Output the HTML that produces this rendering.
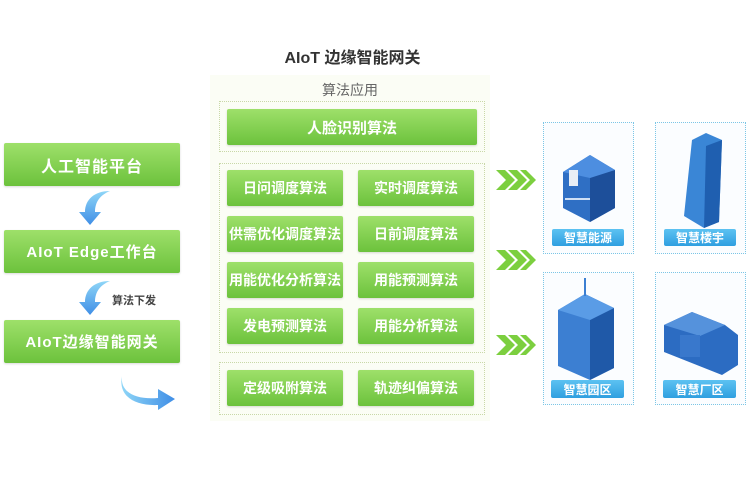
<!DOCTYPE html>
<html><head><meta charset="utf-8"><style>
*{margin:0;padding:0;box-sizing:border-box}
body{width:750px;height:500px;background:#fff;position:relative;overflow:hidden;font-family:"Liberation Sans","Noto Sans CJK SC",sans-serif}
.a{position:absolute}
.g{position:absolute;background:linear-gradient(#9ee06a,#6cc23c);color:#fff;font-weight:bold;display:flex;align-items:center;justify-content:center;border-radius:2px;box-shadow:0 1px 2px rgba(0,0,0,.15);white-space:nowrap}
.b{font-size:14px}
.d{position:absolute;border:1px dotted #c9d8a8}
.c{position:absolute;border:1px dotted #7cc6e6;background:#fbfdff}
.p{position:absolute;background:linear-gradient(#5cc2f2,#2f9fe0);color:#fff;font-weight:bold;font-size:12px;display:flex;align-items:center;justify-content:center;border-radius:2px}
</style></head><body>
<div class="a" style="left:0;top:44px;width:705px;text-align:center;font-size:16px;font-weight:bold;color:#333">AIoT 边缘智能网关</div>
<div class="a" style="left:210px;top:75px;width:280px;height:346px;background:#fbfdf5"></div>
<div class="a" style="left:210px;top:80px;width:280px;text-align:center;font-size:14px;color:#666">算法应用</div>
<div class="d" style="left:219px;top:101px;width:266px;height:51px"></div>
<div class="g" style="left:227px;top:109px;width:250px;height:36px;font-size:15px">人脸识别算法</div>
<div class="d" style="left:219px;top:163px;width:266px;height:190px"></div>
<div class="g b" style="left:227px;top:170px;width:116px;height:36px">日问调度算法</div>
<div class="g b" style="left:358px;top:170px;width:116px;height:36px">实时调度算法</div>
<div class="g b" style="left:227px;top:216px;width:116px;height:36px">供需优化调度算法</div>
<div class="g b" style="left:358px;top:216px;width:116px;height:36px">日前调度算法</div>
<div class="g b" style="left:227px;top:262px;width:116px;height:36px">用能优化分析算法</div>
<div class="g b" style="left:358px;top:262px;width:116px;height:36px">用能预测算法</div>
<div class="g b" style="left:227px;top:308px;width:116px;height:36px">发电预测算法</div>
<div class="g b" style="left:358px;top:308px;width:116px;height:36px">用能分析算法</div>
<div class="d" style="left:219px;top:362px;width:266px;height:53px"></div>
<div class="g b" style="left:227px;top:370px;width:116px;height:36px">定级吸附算法</div>
<div class="g b" style="left:358px;top:370px;width:116px;height:36px">轨迹纠偏算法</div>

<div class="g" style="left:4px;top:143px;width:176px;height:43px;font-size:16px;letter-spacing:1px">人工智能平台</div>
<div class="g" style="left:4px;top:230px;width:176px;height:43px;font-size:15px;letter-spacing:1px">AIoT Edge工作台</div>
<div class="g" style="left:4px;top:320px;width:176px;height:43px;font-size:15px;letter-spacing:1px">AIoT边缘智能网关</div>
<div class="a" style="left:112px;top:292px;font-size:11px;font-weight:bold;color:#444">算法下发</div>
<svg class="a" style="left:0;top:0" width="750" height="500">
<defs><linearGradient id="bl" x1="0" y1="0" x2="0" y2="1"><stop offset="0" stop-color="#8fd6f7"/><stop offset="1" stop-color="#3f8ee6"/></linearGradient>
<linearGradient id="bl2" x1="0" y1="0" x2="1" y2="0"><stop offset="0" stop-color="#8fd6f7"/><stop offset="1" stop-color="#3f8ee6"/></linearGradient></defs>
<path d="M110,191 C94,191 85,200 85,212 L79,212 L90,225 L101,212 L95,212 C95,202 100,195 110,191Z" fill="url(#bl)"/>
<path d="M110,281 C94,281 85,290 85,302 L79,302 L90,315 L101,302 L95,302 C95,292 100,285 110,281Z" fill="url(#bl)"/>
<path d="M122,376 C120,392 135,400 158,398 L158,389 L175,399 L158,410 L158,405 C133,406 118,395 122,376Z" fill="url(#bl2)"/>
<g fill="#7ccf3f">
<path d="M496,170 h9 l10,10 l-10,10 h-9 l10,-10z"/><path d="M508,170 h9 l10,10 l-10,10 h-9 l10,-10z"/><path d="M520,170 h6 l10,10 l-10,10 h-6 l10,-10z"/>
<path d="M496,250 h9 l10,10 l-10,10 h-9 l10,-10z"/><path d="M508,250 h9 l10,10 l-10,10 h-9 l10,-10z"/><path d="M520,250 h6 l10,10 l-10,10 h-6 l10,-10z"/>
<path d="M496,335 h9 l10,10 l-10,10 h-9 l10,-10z"/><path d="M508,335 h9 l10,10 l-10,10 h-9 l10,-10z"/><path d="M520,335 h6 l10,10 l-10,10 h-6 l10,-10z"/>
</g>
</svg>
<div class="c" style="left:543px;top:122px;width:91px;height:132px"></div>
<div class="c" style="left:655px;top:122px;width:91px;height:132px"></div>
<div class="c" style="left:543px;top:272px;width:91px;height:133px"></div>
<div class="c" style="left:655px;top:272px;width:91px;height:133px"></div>
<svg class="a" style="left:0;top:0" width="750" height="500">
<g>
<path d="M563,172 L590,155 L615,170 L615,208 L590,222 L563,208Z" fill="#2f6fc4"/>
<path d="M590,176 L615,170 L615,208 L590,222Z" fill="#1d4f9a"/>
<path d="M563,172 L590,155 L615,170 L590,178Z" fill="#4d8ee0"/>
<rect x="569" y="170" width="9" height="16" fill="#e8eef5"/>
<rect x="565" y="198" width="25" height="2" fill="#cfe0f5"/>
<path d="M692,140 L706,133 L722,140 L719,222 L704,228 L684,216Z" fill="#3a86d6"/>
<path d="M706,146 L722,140 L719,222 L704,228Z" fill="#1f5fb0"/>
<path d="M558,310 L585,294 L614,308 L614,368 L590,380 L558,366Z" fill="#3c7fd2"/>
<path d="M590,320 L614,308 L614,368 L590,380Z" fill="#1f59a8"/>
<path d="M558,310 L585,294 L614,308 L590,320Z" fill="#5a9ce6"/>
<rect x="584" y="278" width="2" height="18" fill="#3c7fd2"/>
<path d="M664,325 L692,312 L725,325 L738,335 L738,365 L722,375 L664,352Z" fill="#2c6cc2"/>
<path d="M664,325 L692,312 L725,325 L700,336Z" fill="#5592dc"/>
<rect x="680" y="335" width="20" height="22" fill="#3978cc"/>
</g>
</svg>
<div class="p" style="left:552px;top:229px;width:72px;height:17px">智慧能源</div>
<div class="p" style="left:664px;top:229px;width:72px;height:17px">智慧楼宇</div>
<div class="p" style="left:551px;top:380px;width:73px;height:18px">智慧园区</div>
<div class="p" style="left:663px;top:380px;width:73px;height:18px">智慧厂区</div>
</body></html>
